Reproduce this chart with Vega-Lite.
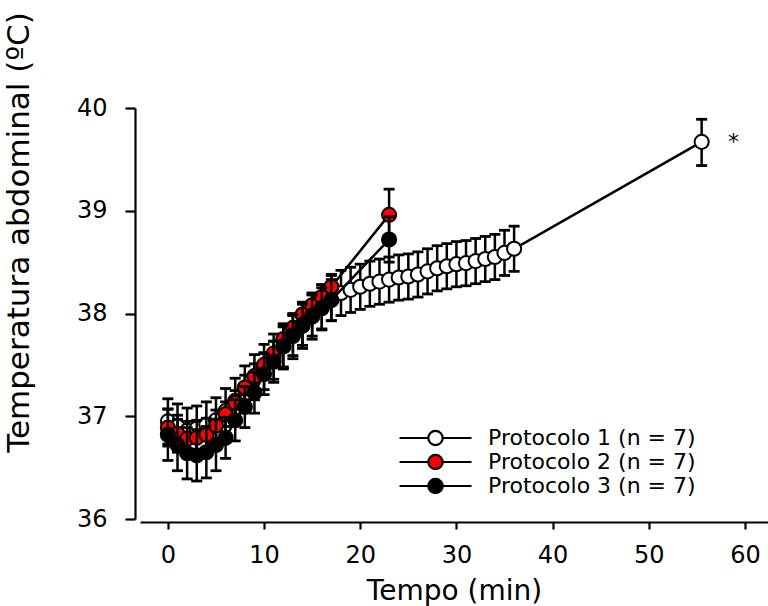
{
  "$schema": "https://vega.github.io/schema/vega-lite/v6.json",
  "width": 628,
  "height": 411,
  "autosize": {"type": "none"},
  "padding": {"left": 140, "top": 108, "right": 0, "bottom": 87},
  "background": "white",
  "config": {
    "view": {"stroke": null},
    "font": "DejaVu Sans",
    "axis": {"domainColor": "black", "domainWidth": 2.2, "tickColor": "black", "tickWidth": 2.2, "labelColor": "black", "titleColor": "black", "grid": false, "titleFontWeight": "normal"},
    "axisY": {"offset": 5, "tickSize": 10, "labelPadding": 18, "labelFontSize": 24, "titleFontSize": 31, "titleX": -100, "titleY": 124, "titleAngle": 270, "titleAlign": "center", "titleBaseline": "bottom"}
  },
  "datasets": {
    "d": [
      {"s": "Protocolo 1 (n = 7)", "t": 0, "m": 36.95, "lo": 36.73, "hi": 37.17},
      {"s": "Protocolo 1 (n = 7)", "t": 1, "m": 36.90, "lo": 36.68, "hi": 37.12},
      {"s": "Protocolo 1 (n = 7)", "t": 2, "m": 36.86, "lo": 36.64, "hi": 37.08},
      {"s": "Protocolo 1 (n = 7)", "t": 3, "m": 36.88, "lo": 36.66, "hi": 37.10},
      {"s": "Protocolo 1 (n = 7)", "t": 4, "m": 36.92, "lo": 36.70, "hi": 37.14},
      {"s": "Protocolo 1 (n = 7)", "t": 5, "m": 36.96, "lo": 36.74, "hi": 37.18},
      {"s": "Protocolo 1 (n = 7)", "t": 6, "m": 37.05, "lo": 36.83, "hi": 37.27},
      {"s": "Protocolo 1 (n = 7)", "t": 7, "m": 37.15, "lo": 36.93, "hi": 37.37},
      {"s": "Protocolo 1 (n = 7)", "t": 8, "m": 37.27, "lo": 37.05, "hi": 37.49},
      {"s": "Protocolo 1 (n = 7)", "t": 9, "m": 37.38, "lo": 37.16, "hi": 37.60},
      {"s": "Protocolo 1 (n = 7)", "t": 10, "m": 37.48, "lo": 37.26, "hi": 37.70},
      {"s": "Protocolo 1 (n = 7)", "t": 11, "m": 37.58, "lo": 37.36, "hi": 37.80},
      {"s": "Protocolo 1 (n = 7)", "t": 12, "m": 37.68, "lo": 37.46, "hi": 37.90},
      {"s": "Protocolo 1 (n = 7)", "t": 13, "m": 37.78, "lo": 37.56, "hi": 38.00},
      {"s": "Protocolo 1 (n = 7)", "t": 14, "m": 37.88, "lo": 37.66, "hi": 38.10},
      {"s": "Protocolo 1 (n = 7)", "t": 15, "m": 37.97, "lo": 37.75, "hi": 38.19},
      {"s": "Protocolo 1 (n = 7)", "t": 16, "m": 38.06, "lo": 37.84, "hi": 38.28},
      {"s": "Protocolo 1 (n = 7)", "t": 17, "m": 38.15, "lo": 37.93, "hi": 38.37},
      {"s": "Protocolo 1 (n = 7)", "t": 18, "m": 38.20, "lo": 37.98, "hi": 38.42},
      {"s": "Protocolo 1 (n = 7)", "t": 19, "m": 38.23, "lo": 38.01, "hi": 38.45},
      {"s": "Protocolo 1 (n = 7)", "t": 20, "m": 38.26, "lo": 38.04, "hi": 38.48},
      {"s": "Protocolo 1 (n = 7)", "t": 21, "m": 38.29, "lo": 38.07, "hi": 38.51},
      {"s": "Protocolo 1 (n = 7)", "t": 22, "m": 38.31, "lo": 38.09, "hi": 38.53},
      {"s": "Protocolo 1 (n = 7)", "t": 23, "m": 38.33, "lo": 38.11, "hi": 38.55},
      {"s": "Protocolo 1 (n = 7)", "t": 24, "m": 38.35, "lo": 38.13, "hi": 38.57},
      {"s": "Protocolo 1 (n = 7)", "t": 25, "m": 38.36, "lo": 38.14, "hi": 38.58},
      {"s": "Protocolo 1 (n = 7)", "t": 26, "m": 38.38, "lo": 38.16, "hi": 38.60},
      {"s": "Protocolo 1 (n = 7)", "t": 27, "m": 38.41, "lo": 38.19, "hi": 38.63},
      {"s": "Protocolo 1 (n = 7)", "t": 28, "m": 38.44, "lo": 38.22, "hi": 38.66},
      {"s": "Protocolo 1 (n = 7)", "t": 29, "m": 38.46, "lo": 38.24, "hi": 38.68},
      {"s": "Protocolo 1 (n = 7)", "t": 30, "m": 38.48, "lo": 38.26, "hi": 38.70},
      {"s": "Protocolo 1 (n = 7)", "t": 31, "m": 38.49, "lo": 38.27, "hi": 38.71},
      {"s": "Protocolo 1 (n = 7)", "t": 32, "m": 38.51, "lo": 38.29, "hi": 38.73},
      {"s": "Protocolo 1 (n = 7)", "t": 33, "m": 38.53, "lo": 38.31, "hi": 38.75},
      {"s": "Protocolo 1 (n = 7)", "t": 34, "m": 38.55, "lo": 38.33, "hi": 38.77},
      {"s": "Protocolo 1 (n = 7)", "t": 35, "m": 38.59, "lo": 38.37, "hi": 38.81},
      {"s": "Protocolo 1 (n = 7)", "t": 36, "m": 38.63, "lo": 38.41, "hi": 38.85},
      {"s": "Protocolo 1 (n = 7)", "t": 55.5, "m": 39.67, "lo": 39.44, "hi": 39.89},
      {"s": "Protocolo 2 (n = 7)", "t": 0, "m": 36.89, "lo": 36.71, "hi": 37.07},
      {"s": "Protocolo 2 (n = 7)", "t": 1, "m": 36.83, "lo": 36.65, "hi": 37.01},
      {"s": "Protocolo 2 (n = 7)", "t": 2, "m": 36.78, "lo": 36.61, "hi": 36.95},
      {"s": "Protocolo 2 (n = 7)", "t": 3, "m": 36.79, "lo": 36.62, "hi": 36.96},
      {"s": "Protocolo 2 (n = 7)", "t": 4, "m": 36.82, "lo": 36.66, "hi": 36.98},
      {"s": "Protocolo 2 (n = 7)", "t": 5, "m": 36.91, "lo": 36.76, "hi": 37.06},
      {"s": "Protocolo 2 (n = 7)", "t": 6, "m": 37.02, "lo": 36.90, "hi": 37.14},
      {"s": "Protocolo 2 (n = 7)", "t": 7, "m": 37.13, "lo": 37.01, "hi": 37.25},
      {"s": "Protocolo 2 (n = 7)", "t": 8, "m": 37.28, "lo": 37.16, "hi": 37.40},
      {"s": "Protocolo 2 (n = 7)", "t": 9, "m": 37.39, "lo": 37.27, "hi": 37.51},
      {"s": "Protocolo 2 (n = 7)", "t": 10, "m": 37.50, "lo": 37.38, "hi": 37.62},
      {"s": "Protocolo 2 (n = 7)", "t": 11, "m": 37.61, "lo": 37.49, "hi": 37.73},
      {"s": "Protocolo 2 (n = 7)", "t": 12, "m": 37.75, "lo": 37.63, "hi": 37.87},
      {"s": "Protocolo 2 (n = 7)", "t": 13, "m": 37.86, "lo": 37.74, "hi": 37.98},
      {"s": "Protocolo 2 (n = 7)", "t": 14, "m": 37.99, "lo": 37.87, "hi": 38.11},
      {"s": "Protocolo 2 (n = 7)", "t": 15, "m": 38.08, "lo": 37.96, "hi": 38.20},
      {"s": "Protocolo 2 (n = 7)", "t": 16, "m": 38.16, "lo": 38.04, "hi": 38.28},
      {"s": "Protocolo 2 (n = 7)", "t": 17, "m": 38.26, "lo": 38.14, "hi": 38.38},
      {"s": "Protocolo 2 (n = 7)", "t": 23, "m": 38.96, "lo": 38.71, "hi": 39.21},
      {"s": "Protocolo 3 (n = 7)", "t": 0, "m": 36.82, "lo": 36.57, "hi": 37.07},
      {"s": "Protocolo 3 (n = 7)", "t": 1, "m": 36.72, "lo": 36.47, "hi": 36.97},
      {"s": "Protocolo 3 (n = 7)", "t": 2, "m": 36.64, "lo": 36.39, "hi": 36.89},
      {"s": "Protocolo 3 (n = 7)", "t": 3, "m": 36.62, "lo": 36.37, "hi": 36.87},
      {"s": "Protocolo 3 (n = 7)", "t": 4, "m": 36.65, "lo": 36.40, "hi": 36.90},
      {"s": "Protocolo 3 (n = 7)", "t": 5, "m": 36.72, "lo": 36.47, "hi": 36.97},
      {"s": "Protocolo 3 (n = 7)", "t": 6, "m": 36.79, "lo": 36.59, "hi": 36.99},
      {"s": "Protocolo 3 (n = 7)", "t": 7, "m": 36.96, "lo": 36.76, "hi": 37.16},
      {"s": "Protocolo 3 (n = 7)", "t": 8, "m": 37.09, "lo": 36.89, "hi": 37.29},
      {"s": "Protocolo 3 (n = 7)", "t": 9, "m": 37.23, "lo": 37.03, "hi": 37.43},
      {"s": "Protocolo 3 (n = 7)", "t": 10, "m": 37.41, "lo": 37.21, "hi": 37.61},
      {"s": "Protocolo 3 (n = 7)", "t": 11, "m": 37.53, "lo": 37.33, "hi": 37.73},
      {"s": "Protocolo 3 (n = 7)", "t": 12, "m": 37.68, "lo": 37.48, "hi": 37.88},
      {"s": "Protocolo 3 (n = 7)", "t": 13, "m": 37.79, "lo": 37.59, "hi": 37.99},
      {"s": "Protocolo 3 (n = 7)", "t": 14, "m": 37.89, "lo": 37.69, "hi": 38.09},
      {"s": "Protocolo 3 (n = 7)", "t": 15, "m": 37.98, "lo": 37.78, "hi": 38.18},
      {"s": "Protocolo 3 (n = 7)", "t": 16, "m": 38.05, "lo": 37.85, "hi": 38.25},
      {"s": "Protocolo 3 (n = 7)", "t": 17, "m": 38.13, "lo": 37.93, "hi": 38.33},
      {"s": "Protocolo 3 (n = 7)", "t": 23, "m": 38.72, "lo": 38.50, "hi": 38.94}
    ],
    "ann": [
      {"t": 58.8, "m": 39.67, "label": "*"}
    ]
  },
  "data": {"name": "d"},
  "encoding": {
    "x": {
      "field": "t", "type": "quantitative",
      "scale": {"domain": [-2.9, 62.4], "nice": false, "zero": false},
      "axis": {"values": [0, 10, 20, 30, 40, 50, 60], "title": "Tempo (min)", "offset": 3, "tickSize": 7, "labelPadding": 14, "labelFontSize": 24, "titleFontSize": 28, "titleY": 77, "titleBaseline": "alphabetic", "labelFlush": false}
    }
  },
  "layer": [
    {
      "transform": [{"filter": "datum.s == 'Protocolo 1 (n = 7)'"}],
      "layer": [
        {"mark": {"type": "line", "color": "black", "strokeWidth": 2.5},
         "encoding": {"y": {"field": "m", "type": "quantitative", "scale": {"domain": [36, 40], "nice": false, "zero": false},
           "axis": {"values": [36, 37, 38, 39, 40], "format": "d", "title": "Temperatura abdominal (ºC)"}}}},
        {"mark": {"type": "rule", "color": "black", "strokeWidth": 2.5},
         "encoding": {"y": {"field": "lo", "type": "quantitative", "axis": {"values": [36, 37, 38, 39, 40], "format": "d", "title": "Temperatura abdominal (ºC)"}}, "y2": {"field": "hi"}}},
        {"mark": {"type": "tick", "orient": "horizontal", "color": "black", "size": 11, "thickness": 2.8, "opacity": 1},
         "encoding": {"y": {"field": "lo", "type": "quantitative", "axis": {"values": [36, 37, 38, 39, 40], "format": "d", "title": "Temperatura abdominal (ºC)"}}}},
        {"mark": {"type": "tick", "orient": "horizontal", "color": "black", "size": 11, "thickness": 2.8, "opacity": 1},
         "encoding": {"y": {"field": "hi", "type": "quantitative", "axis": {"values": [36, 37, 38, 39, 40], "format": "d", "title": "Temperatura abdominal (ºC)"}}}},
        {"mark": {"type": "point", "shape": "circle", "size": 200, "filled": true, "stroke": "black", "strokeWidth": 2, "opacity": 1},
         "encoding": {"y": {"field": "m", "type": "quantitative", "axis": {"values": [36, 37, 38, 39, 40], "format": "d", "title": "Temperatura abdominal (ºC)"}},
           "fill": {"field": "s", "type": "nominal",
             "scale": {"domain": ["Protocolo 1 (n = 7)", "Protocolo 2 (n = 7)", "Protocolo 3 (n = 7)"], "range": ["white", "red", "black"]},
             "legend": {"title": null, "orient": "none", "legendX": 258, "legendY": 318, "padding": 0,
               "symbolType": "M-1,0L-0.2,0M0.2,0A0.2,0.2,0,1,1,-0.2,0A0.2,0.2,0,1,1,0.2,0ZM0.2,0L1,0",
               "symbolSize": 5184, "symbolStrokeColor": "black", "symbolStrokeWidth": 2.2, "symbolOpacity": 1,
               "clipHeight": 24, "rowPadding": 0, "labelOffset": 15, "labelFontSize": 22, "labelColor": "black", "labelLimit": 400}}}}
      ]
    },
    {
      "transform": [{"filter": "datum.s == 'Protocolo 2 (n = 7)'"}],
      "layer": [
        {"mark": {"type": "line", "color": "black", "strokeWidth": 2.5},
         "encoding": {"y": {"field": "m", "type": "quantitative", "axis": {"values": [36, 37, 38, 39, 40], "format": "d", "title": "Temperatura abdominal (ºC)"}}}},
        {"mark": {"type": "rule", "color": "black", "strokeWidth": 2.5},
         "encoding": {"y": {"field": "lo", "type": "quantitative", "axis": {"values": [36, 37, 38, 39, 40], "format": "d", "title": "Temperatura abdominal (ºC)"}}, "y2": {"field": "hi"}}},
        {"mark": {"type": "tick", "orient": "horizontal", "color": "black", "size": 11, "thickness": 2.8, "opacity": 1},
         "encoding": {"y": {"field": "lo", "type": "quantitative", "axis": {"values": [36, 37, 38, 39, 40], "format": "d", "title": "Temperatura abdominal (ºC)"}}}},
        {"mark": {"type": "tick", "orient": "horizontal", "color": "black", "size": 11, "thickness": 2.8, "opacity": 1},
         "encoding": {"y": {"field": "hi", "type": "quantitative", "axis": {"values": [36, 37, 38, 39, 40], "format": "d", "title": "Temperatura abdominal (ºC)"}}}},
        {"mark": {"type": "point", "shape": "circle", "size": 200, "filled": true, "stroke": "black", "strokeWidth": 2, "opacity": 1},
         "encoding": {"y": {"field": "m", "type": "quantitative", "axis": {"values": [36, 37, 38, 39, 40], "format": "d", "title": "Temperatura abdominal (ºC)"}},
           "fill": {"field": "s", "type": "nominal"}}}
      ]
    },
    {
      "transform": [{"filter": "datum.s == 'Protocolo 3 (n = 7)'"}],
      "layer": [
        {"mark": {"type": "line", "color": "black", "strokeWidth": 2.5},
         "encoding": {"y": {"field": "m", "type": "quantitative", "axis": {"values": [36, 37, 38, 39, 40], "format": "d", "title": "Temperatura abdominal (ºC)"}}}},
        {"mark": {"type": "rule", "color": "black", "strokeWidth": 2.5},
         "encoding": {"y": {"field": "lo", "type": "quantitative", "axis": {"values": [36, 37, 38, 39, 40], "format": "d", "title": "Temperatura abdominal (ºC)"}}, "y2": {"field": "hi"}}},
        {"mark": {"type": "tick", "orient": "horizontal", "color": "black", "size": 11, "thickness": 2.8, "opacity": 1},
         "encoding": {"y": {"field": "lo", "type": "quantitative", "axis": {"values": [36, 37, 38, 39, 40], "format": "d", "title": "Temperatura abdominal (ºC)"}}}},
        {"mark": {"type": "tick", "orient": "horizontal", "color": "black", "size": 11, "thickness": 2.8, "opacity": 1},
         "encoding": {"y": {"field": "hi", "type": "quantitative", "axis": {"values": [36, 37, 38, 39, 40], "format": "d", "title": "Temperatura abdominal (ºC)"}}}},
        {"mark": {"type": "point", "shape": "circle", "size": 200, "filled": true, "stroke": "black", "strokeWidth": 2, "opacity": 1},
         "encoding": {"y": {"field": "m", "type": "quantitative", "axis": {"values": [36, 37, 38, 39, 40], "format": "d", "title": "Temperatura abdominal (ºC)"}},
           "fill": {"field": "s", "type": "nominal"}}}
      ]
    },
    {
      "data": {"name": "ann"},
      "mark": {"type": "text", "fontSize": 22, "color": "black", "baseline": "middle", "align": "center"},
      "encoding": {"y": {"field": "m", "type": "quantitative", "axis": {"values": [36, 37, 38, 39, 40], "format": "d", "title": "Temperatura abdominal (ºC)"}}, "text": {"field": "label"}}
    }
  ]
}
